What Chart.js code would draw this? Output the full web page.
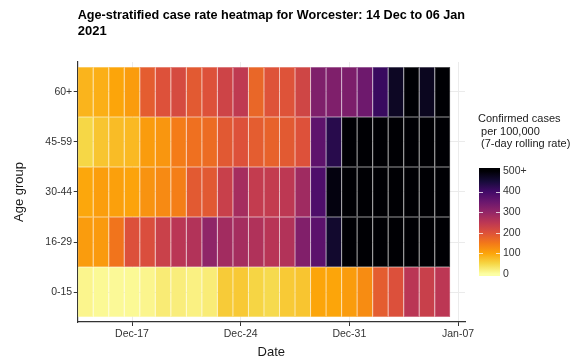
<!DOCTYPE html>
<html>
<head>
<meta charset="utf-8">
<script src="https://cdn.jsdelivr.net/npm/chart.js@4/dist/chart.umd.min.js"></script>
<style>
  body { margin: 0; background: #fff; }
  #wrap { width: 584px; height: 362px; }
</style>
</head>
<body>
<div id="wrap"><canvas id="heatmap" width="584" height="362"></canvas></div>
<script>
// days shown, 14 Dec 2020 -> 06 Jan 2021 (index 0..23)
var days = [
    "2020-12-14", "2020-12-15", "2020-12-16", "2020-12-17", "2020-12-18", "2020-12-19",
    "2020-12-20", "2020-12-21", "2020-12-22", "2020-12-23", "2020-12-24", "2020-12-25",
    "2020-12-26", "2020-12-27", "2020-12-28", "2020-12-29", "2020-12-30", "2020-12-31",
    "2021-01-01", "2021-01-02", "2021-01-03", "2021-01-04", "2021-01-05", "2021-01-06"
];

// bottom to top
var ageGroups = ["0-15", "16-29", "30-44", "45-59", "60+"];

// 7-day rolling case rate per 100,000, one value per day
var rate0to15  = [12, 8, 7, 8, 12, 25, 22, 18, 24, 62, 64, 52, 46, 63, 68, 100, 100, 110, 128, 185, 202, 252, 232, 250];
var rate16to29 = [110, 112, 155, 202, 205, 230, 252, 262, 305, 282, 278, 265, 255, 262, 322, 368, 460, 540, 580, 610, 640, 660, 690, 700];
var rate30to44 = [98, 108, 106, 102, 120, 130, 143, 188, 190, 232, 278, 240, 240, 248, 285, 385, 490, 560, 600, 630, 660, 680, 700, 720];
var rate45to59 = [50, 68, 77, 80, 110, 117, 145, 160, 165, 190, 200, 185, 178, 188, 200, 365, 430, 520, 560, 600, 640, 660, 690, 700];
var rate60plus = [85, 90, 100, 110, 185, 200, 212, 188, 200, 225, 245, 172, 198, 198, 222, 325, 325, 328, 345, 410, 470, 520, 475, 540];

var xTickDays = [3, 10, 17, 24];
var xTickLabels = ["Dec-17", "Dec-24", "Dec-31", "Jan-07"];
var legendTicks = [0, 100, 200, 300, 400, 500];
var legendTickLabels = ["0", "100", "200", "300", "400", "500+"];

var rowsByAge = [rate0to15, rate16to29, rate30to44, rate45to59, rate60plus];

// inferno, dark -> light; scale is reversed so 0 = light yellow, 500+ = black
var inferno = ["#000004", "#160B39", "#420A68", "#6A176E", "#932667", "#BC3754",
               "#DD513A", "#F37819", "#FCA50A", "#F6D746", "#FCFFA4"];
var fontFamily = "'Liberation Sans', Arial, Helvetica, sans-serif";

function hexToRgb(h) {
    return [parseInt(h.substr(1, 2), 16), parseInt(h.substr(3, 2), 16), parseInt(h.substr(5, 2), 16)];
}

function rateRgb(v) {
    var t = Math.min(Math.max(v / 500, 0), 1);
    var pos = (1 - t) * 10;
    var i = Math.min(Math.floor(pos), 9);
    var f = pos - i;
    var a = hexToRgb(inferno[i]), b = hexToRgb(inferno[i + 1]);
    return [0, 1, 2].map(k => Math.round(a[k] + (b[k] - a[k]) * f));
}

function rateColor(v) {
    var c = rateRgb(v);
    return "rgb(" + c.join(",") + ")";
}

// tile outline: tile colour washed with a bit of white
function outlineColor(v) {
    var c = rateRgb(v).map(x => Math.round(x + (255 - x) * 0.2));
    return "rgb(" + c.join(",") + ")";
}

var _datasets = rowsByAge.map((rates, r) => ({
    label: ageGroups[r],
    data: rates.map((v, i) => ({ x: i, y: [r - 0.5, r + 0.5] })),
    backgroundColor: rates.map(rateColor),
    borderColor: rates.map(outlineColor),
    borderWidth: 0.5,
    borderSkipped: false,
    inflateAmount: 0,
    grouped: false,
    barPercentage: 1,
    categoryPercentage: 1
}));

// colourbar legend on the right
var colourbarLegend = {
    id: "colourbarLegend",
    afterDraw(chart) {
        var ctx = chart.ctx;
        var barX = 479, barW = 21;
        var y0 = 274, pxPer = 0.206;
        var yOf = v => y0 - v * pxPer;
        var top = 168, bottom = 276;

        ctx.save();
        ctx.fillStyle = "#1a1a1a";
        ctx.font = "11px " + fontFamily;
        ctx.textBaseline = "middle";
        ctx.textAlign = "left";
        ctx.fillText("Confirmed cases", 478, 119);
        ctx.fillText(" per 100,000", 478, 131.5);
        ctx.fillText(" (7-day rolling rate)", 478, 144);

        var grad = ctx.createLinearGradient(0, yOf(0), 0, yOf(500));
        for (var k = 0; k <= 10; k++) {
            grad.addColorStop(k / 10, rateColor(k * 50));
        }
        ctx.fillStyle = grad;
        ctx.fillRect(barX, top, barW, bottom - top);

        ctx.strokeStyle = "rgba(255,255,255,0.75)";
        ctx.lineWidth = 1;
        legendTicks.forEach(v => {
            if (v == 0 || v == 500) return;
            var y = Math.round(yOf(v)) + 0.5;
            ctx.beginPath();
            ctx.moveTo(barX, y); ctx.lineTo(barX + 4, y);
            ctx.moveTo(barX + barW - 4, y); ctx.lineTo(barX + barW, y);
            ctx.stroke();
        });

        ctx.fillStyle = "#333";
        ctx.font = "10.5px " + fontFamily;
        legendTicks.forEach((v, i) => {
            ctx.fillText(legendTickLabels[i], 503, yOf(v));
        });
        ctx.restore();
    }
};

new Chart(document.getElementById("heatmap"), {
    type: "bar",
    data: { datasets: _datasets },
    plugins: [colourbarLegend],
    options: {
        responsive: false,
        animation: false,
        indexAxis: "x",
        layout: { padding: { left: 0, right: 119, top: 0, bottom: 0 } },
        plugins: {
            legend: { display: false },
            tooltip: { enabled: false },
            title: {
                display: true,
                text: ["Age-stratified case rate heatmap for Worcester: 14 Dec to 06 Jan", "2021"],
                align: "start",
                fullSize: false,
                color: "#000",
                font: { family: fontFamily, size: 13, weight: "bold", lineHeight: 1.2 },
                padding: { top: 8, bottom: 22.8 }
            }
        },
        scales: {
            x: {
                type: "linear",
                offset: false,
                min: -0.5,
                max: 24.45,
                afterBuildTicks: s => { s.ticks = xTickDays.map(v => ({ value: v })); },
                afterFit: s => { s.height = 40; },
                ticks: {
                    autoSkip: false,
                    maxRotation: 0,
                    padding: 2,
                    color: "#333",
                    font: { family: fontFamily, size: 10.5 },
                    callback: v => xTickLabels[xTickDays.indexOf(v)]
                },
                grid: { offset: false, color: "#ebebeb", lineWidth: 1, tickLength: 4, tickColor: "#333" },
                border: { display: true, color: "#333", width: 1.2 },
                title: {
                    display: true,
                    text: "Date",
                    color: "#1a1a1a",
                    font: { family: fontFamily, size: 13 },
                    padding: { top: 0, bottom: 2 }
                }
            },
            y: {
                type: "linear",
                min: -0.6,
                max: 4.6,
                afterBuildTicks: s => { s.ticks = ageGroups.map((g, i) => ({ value: i })); },
                afterFit: s => { s.width = 77.7; },
                ticks: {
                    autoSkip: false,
                    padding: 1.5,
                    color: "#333",
                    font: { family: fontFamily, size: 10.5 },
                    callback: v => ageGroups[v]
                },
                grid: { color: "#ebebeb", lineWidth: 1, tickLength: 4, tickColor: "#333" },
                border: { display: true, color: "#333", width: 1.2 },
                title: {
                    display: true,
                    text: "Age group",
                    color: "#1a1a1a",
                    font: { family: fontFamily, size: 13 },
                    padding: { top: 12, bottom: 0 }
                }
            }
        }
    }
});
</script>
</body>
</html>
